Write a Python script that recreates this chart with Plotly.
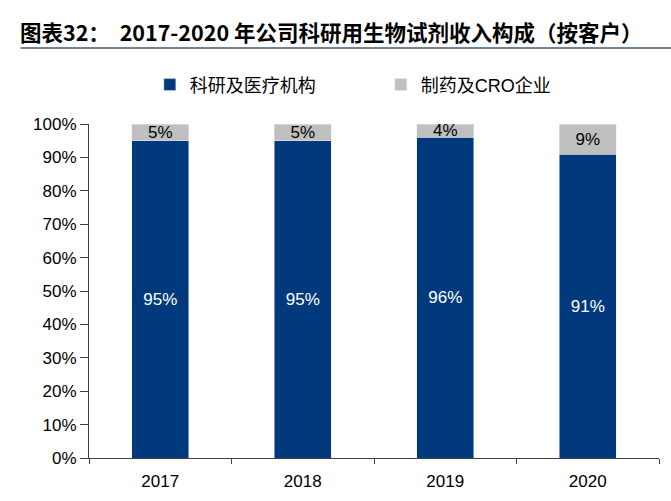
import plotly.graph_objects as go

# Revenue split by customer type, 2017-2020
years = ['2017', '2018', '2019', '2020']
research_medical = [95, 95, 96, 91]   # 科研及医疗机构
pharma_cro = [5, 5, 4, 9]             # 制药及CRO企业

blue = '#003A7D'
grey = '#BFBFBF'
font_en = 'Liberation Sans, Arial, sans-serif'

fig = go.Figure()
fig.add_trace(go.Bar(
    x=years, y=research_medical, name='科研及医疗机构',
    marker_color=blue, width=0.4,
    text=[f'{v}%' for v in research_medical], textposition='inside',
    insidetextanchor='middle', constraintext='none',
    textfont=dict(color='white', size=17, family=font_en),
))
fig.add_trace(go.Bar(
    x=years, y=pharma_cro, name='制药及CRO企业',
    marker_color=grey, width=0.4,
    text=[f'{v}%' for v in pharma_cro], textposition='inside',
    insidetextanchor='middle', constraintext='none',
    textfont=dict(color='black', size=17, family=font_en),
))

fig.update_layout(
    barmode='stack',
    width=671, height=501,
    margin=dict(l=89, r=12, t=124, b=43, autoexpand=False),
    plot_bgcolor='white', paper_bgcolor='white',
    font=dict(family=font_en, size=16, color='black'),
    title=dict(
        text='图表32：  2017-2020 年公司科研用生物试剂收入构成（按客户）',
        x=20 / 671, xanchor='left', xref='container',
        y=1 - 33 / 501, yanchor='middle', yref='container',
        font=dict(family='Noto Sans CJK SC', size=21.5, color='black', weight='bold'),
    ),
    legend=dict(
        orientation='h', x=0.512, xanchor='center', y=1.117, yanchor='middle',
        font=dict(family='Liberation Sans, Noto Sans CJK SC', size=18),
        itemwidth=30, traceorder='normal',
        entrywidth=186,
    ),
    showlegend=True,
    shapes=[dict(
        type='line', xref='paper', yref='paper',
        x0=-0.12, x1=1.025, y0=1.2275, y1=1.2275,
        line=dict(color='#6F849A', width=2),
    )],
)
fig.update_xaxes(
    showline=True, linecolor='#404040', linewidth=1,
    ticks='outside', tickson='boundaries', ticklen=5, tickcolor='#404040',
    tickfont=dict(size=17), ticklabelstandoff=8, showgrid=False,
)
fig.update_yaxes(
    range=[0, 100], dtick=10, ticksuffix='%',
    showline=True, linecolor='#404040', linewidth=1,
    ticks='outside', ticklen=8, tickcolor='#404040',
    tickfont=dict(size=17), showgrid=False, zeroline=False,
)

# drop the page's default body margin so the figure sits at the window origin
fig.write_html('out.html', config={'displayModeBar': False},
               post_script="document.body.style.margin='0';")
